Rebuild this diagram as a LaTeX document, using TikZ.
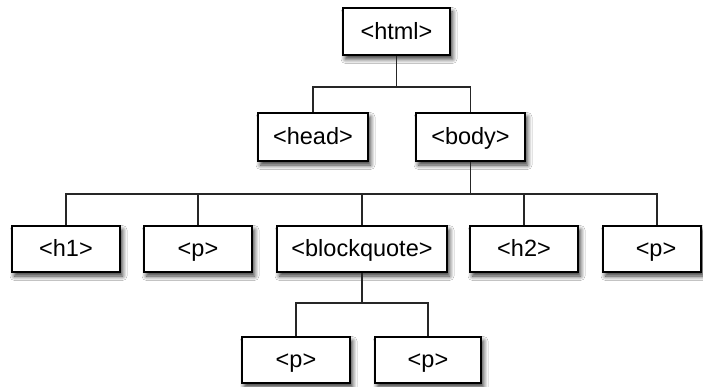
\documentclass[tikz,border=0pt]{standalone}
\usepackage{fontspec}
\setmainfont{Liberation Sans}
\usetikzlibrary{shadows.blur}
\begin{document}
\begin{tikzpicture}[x=1pt,y=1pt,
  tag/.style={draw=black, line width=1.5pt, fill=white, minimum height=47pt,
    inner sep=0pt, text height=20pt, text depth=4.4pt, font=\fontsize{23.5}{27}\selectfont,
    blur shadow={shadow xshift=2.5pt, shadow yshift=-4pt, shadow blur steps=8, shadow blur radius=4.5pt, shadow opacity=80}},
  link/.style={draw=black!85, line width=1.5pt}]
\fill[white] (0,0) rectangle (703,-387);
\clip (0,0) rectangle (703,-387);
\node[tag, minimum width=107pt] (html) at (396.5,-31.5) {<html>};
\node[tag, minimum width=110pt, minimum height=48pt] (head) at (313,-137) {<head>};
\node[tag, minimum width=109pt, minimum height=48pt] (body) at (470.5,-137) {<body>};
\node[tag, minimum width=108pt, minimum height=46pt] (h1) at (66,-249) {<h1>};
\node[tag, minimum width=108pt, minimum height=46pt] (p1) at (198,-249) {<p>};
\node[tag, minimum width=170pt, minimum height=46pt] (bq) at (362,-249) {<blockquote>};
\node[tag, minimum width=108pt, minimum height=46pt] (h2) at (524,-249) {<h2>};
\node[tag, minimum width=98pt, minimum height=46pt, text width=98pt, align=center] (p2) at (652,-249) {\hspace*{8pt}<p>};
\node[tag, minimum width=108pt, minimum height=46pt] (p3) at (296,-360) {<p>};
\node[tag, minimum width=106pt, minimum height=46pt] (p4) at (428,-360) {<p>};
\coordinate (b1) at (396.5,-87);
\coordinate (b2) at (470.5,-194);
\coordinate (b3) at (362,-303);
\coordinate (p2top) at ([xshift=5pt]p2.north);
\draw[link] (html.south) -- (b1);
\draw[link] (head.north) |- (b1) -| (body.north);
\draw[link] (body.south) -- (b2);
\draw[link] (h1.north) |- (b2) -| (p2top);
\draw[link] (p1.north) -- (p1.north |- b2);
\draw[link] (bq.north) -- (bq.north |- b2);
\draw[link] (h2.north) -- (h2.north |- b2);
\draw[link] (bq.south) -- (b3);
\draw[link] (p3.north) |- (b3) -| (p4.north);
\end{tikzpicture}
\end{document}
